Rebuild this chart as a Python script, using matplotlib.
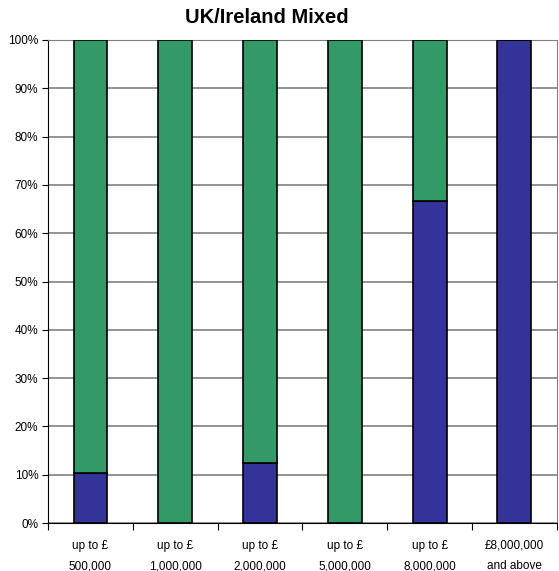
import numpy as np
import matplotlib
matplotlib.use("Agg")
import matplotlib.pyplot as plt
from matplotlib.ticker import FixedLocator, PercentFormatter

plt.rcParams['font.family'] = ['Liberation Sans', 'DejaVu Sans']

# 데이터
categories = ["up to £\n500,000", "up to £\n1,000,000", "up to £\n2,000,000",
              "up to £\n5,000,000", "up to £\n8,000,000", "£8,000,000\nand above"]
blue_share = [10.3, 0.0, 12.5, 0.0, 66.7, 100.0]
green_share = [100 - v for v in blue_share]

fig = plt.figure(figsize=(5.59, 5.71), dpi=100)
ax = fig.add_axes([0.086, 0.084, 0.910, 0.846])

x = np.arange(len(categories))
ax.bar(x, blue_share, width=0.4, color='#333399', edgecolor='black', linewidth=1.2, zorder=3)
ax.bar(x, green_share, width=0.4, bottom=blue_share, color='#339966',
       edgecolor='black', linewidth=1.2, zorder=3)

ax.set_xlim(-0.5, len(categories) - 0.5)
ax.set_ylim(0, 100)
ax.set_yticks(np.arange(0, 101, 10))
ax.yaxis.set_major_formatter(PercentFormatter(decimals=0))
ax.yaxis.grid(True, color='#808080', linewidth=1.2, zorder=0)

# x축 눈금은 범주 경계에, 라벨은 가운데에
ax.xaxis.set_major_locator(FixedLocator(np.arange(-0.5, len(categories), 1)))
ax.set_xticklabels([])
ax.xaxis.set_minor_locator(FixedLocator(x))
ax.set_xticklabels(categories, minor=True, fontsize=8.5, linespacing=1.95)
ax.tick_params(axis='x', which='minor', length=0, pad=12)
ax.tick_params(axis='x', which='major', length=5, direction='out')
ax.tick_params(axis='y', length=4, labelsize=8.5, pad=3)

for s in ['top', 'right']:
    ax.spines[s].set_color('#808080')
for s in ['left', 'bottom']:
    ax.spines[s].set_color('black')

# 제목 (그림 기준 위치)
fig.text(0.478, 0.970, 'UK/Ireland Mixed', fontsize=14.5, fontweight='bold',
         ha='center', va='center')

fig.savefig('out.png', dpi=100)
